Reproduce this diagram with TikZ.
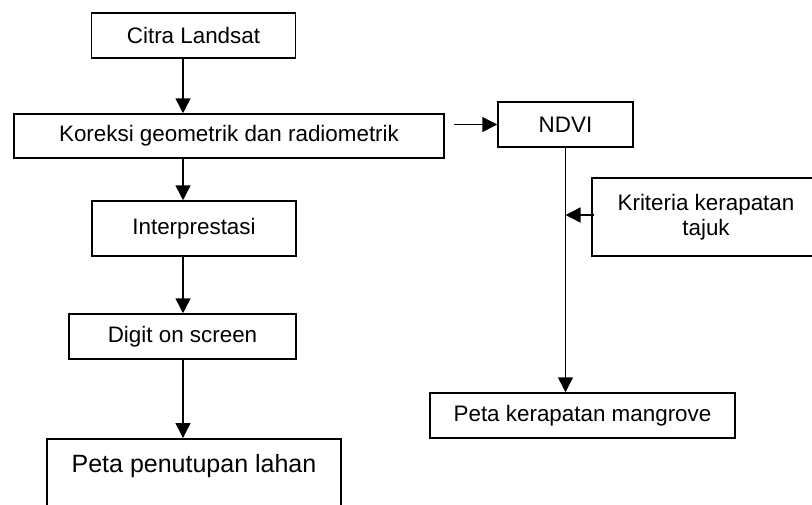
\documentclass[tikz,border=0pt]{standalone}
\usepackage{fontspec}
\setmainfont{Liberation Sans}
\usetikzlibrary{positioning}
\usetikzlibrary{arrows.meta}
\usetikzlibrary{calc}

\begin{document}
\begin{tikzpicture}[x=1pt,y=-1pt,
		box/.style={draw, line width=1.5pt, rectangle, inner sep=0pt, align=center,
			font=\fontsize{22.4}{25}\selectfont},
		arr/.style={line width=1.5pt, -{Triangle[length=15pt,width=15pt]}}]
		\useasboundingbox (0,0) rectangle (812,504);
		\clip (0,0) rectangle (812,504);

		 % Define the boxes
		\node[box, minimum width=204pt, minimum height=45pt] (citra) at (193.5,35.5) {Citra Landsat};
		\node[box, minimum width=430pt, minimum height=44pt] (koreksi) at (229,136) {Koreksi geometrik dan radiometrik};
		\node[box, minimum width=204pt, minimum height=55pt] (interp) at (194,228.5) {Interprestasi};
		\node[box, minimum width=227pt, minimum height=45pt] (digit) at (182.5,336.5) {Digit on screen};
		\node[box, minimum width=294pt, anchor=north, inner ysep=8pt, text height=26pt, text depth=40pt,
			font=\fontsize{25}{28}\selectfont] (tutupan) at (194,438) {Peta penutupan lahan};
		\node[box, minimum width=135pt, minimum height=45pt] (ndvi) at (565.5,124.5) {NDVI};
		\node[box, minimum width=228pt, minimum height=78pt] (kriteria) at (706,217) {Kriteria kerapatan\\tajuk};
		\node[box, minimum width=305pt, minimum height=45pt] (rapat) at (582.5,415.5) {Peta kerapatan mangrove};

		\coordinate (axis) at (183,0);
		\coordinate (kout) at ($(koreksi.east |- ndvi.west)+(9,0)$);
		\coordinate (kin) at ($(kriteria.west)+(3,-2)$);

		% Draw the arrows
		\draw[arr] (axis |- citra.south) -- (axis |- koreksi.north);
		\draw[arr] (axis |- koreksi.south) -- (axis |- interp.north);
		\draw[arr] (axis |- interp.south) -- (axis |- digit.north);
		\draw[arr] (axis |- digit.south) -- (axis |- tutupan.north);
		\draw[arr] (kout) -- (ndvi.west);
		\draw[arr] (ndvi.south) -- (ndvi.south |- rapat.north);
		\draw[arr] (kin) -- (kin -| ndvi.south);
	\end{tikzpicture}
\end{document}
